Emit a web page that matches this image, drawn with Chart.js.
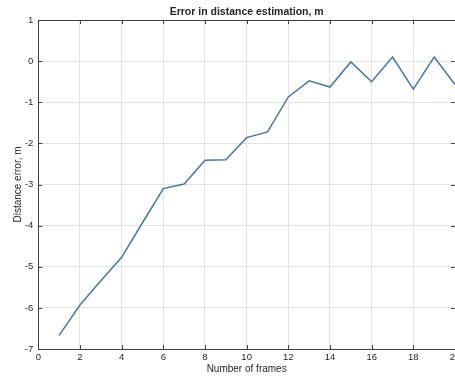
<!DOCTYPE html>
<html>
<head>
<meta charset="utf-8">
<script src="https://cdn.jsdelivr.net/npm/chart.js@4.4.0/dist/chart.umd.min.js"></script>
<style>
  html, body { margin: 0; padding: 0; background: #fff; overflow: hidden; }
  #wrap { width: 475px; height: 378px; position: relative; }
</style>
</head>
<body>
<div id="wrap"><canvas id="errChart"></canvas></div>
<script>
// Distance error per number of frames
const frames = [1, 2, 3, 4, 5, 6, 7, 8, 9, 10, 11, 12, 13, 14, 15, 16, 17, 18, 19, 20];
const distanceError = [-6.67, -5.93, -5.34, -4.77, -3.93, -3.1, -2.99, -2.41, -2.4, -1.86,
  -1.72, -0.87, -0.48, -0.63, -0.02, -0.5, 0.1, -0.68, 0.1, -0.57];

// Axis ranges / tick spacing
const xRange = [0, 20];
const xStep = 2;
const yRange = [-7, 1];
const yStep = 1;

const fontFamily = "'Liberation Sans', Arial, Helvetica, sans-serif";
const axisColor = "#404040";
const textColor = "#262626";
const gridColor = "#e3e3e3";

// box round the plot plus inward tick marks on every side
const boxPlugin = {
  id: "boxTicks",
  afterDatasetsDraw(chart) {
    const { ctx, chartArea: a, scales } = chart;
    const len = 4;
    ctx.save();
    ctx.strokeStyle = axisColor;
    ctx.lineWidth = 1;
    ctx.beginPath();
    scales.x.ticks.forEach((t) => {
      const px = Math.round(scales.x.getPixelForValue(t.value)) + 0.5;
      ctx.moveTo(px, a.bottom);
      ctx.lineTo(px, a.bottom - len);
      ctx.moveTo(px, a.top);
      ctx.lineTo(px, a.top + len);
    });
    scales.y.ticks.forEach((t) => {
      const py = Math.round(scales.y.getPixelForValue(t.value)) + 0.5;
      ctx.moveTo(a.left, py);
      ctx.lineTo(a.left + len, py);
      ctx.moveTo(a.right, py);
      ctx.lineTo(a.right - len, py);
    });
    ctx.stroke();
    ctx.strokeRect(Math.round(a.left) + 0.5, Math.round(a.top) + 0.5,
      Math.round(a.width), Math.round(a.height));
    ctx.restore();
  },
};

const ctx = document.getElementById("errChart").getContext("2d");
new Chart(ctx, {
  type: "line",
  data: {
    datasets: [
      {
        data: frames.map((f, i) => ({ x: f, y: distanceError[i] })),
        borderColor: "#4277b3",
        borderWidth: 1.5,
        pointRadius: 0,
        tension: 0,
        fill: false,
      },
    ],
  },
  options: {
    responsive: true,
    maintainAspectRatio: false,
    animation: false,
    layout: {
      autoPadding: false,
      padding: { left: 0, right: 20, top: 0, bottom: 0 },
    },
    plugins: {
      legend: { display: false },
      tooltip: { enabled: false },
      title: {
        display: true,
        text: "Error in distance estimation, m",
        fullSize: false,
        color: textColor,
        font: { family: fontFamily, size: 10.5, weight: "bold" },
        padding: { top: 6, bottom: 1.4 },
      },
    },
    scales: {
      x: {
        type: "linear",
        min: xRange[0],
        max: xRange[1],
        afterFit(scale) {
          scale.height = 29;
        },
        ticks: {
          stepSize: xStep,
          color: textColor,
          font: { family: fontFamily, size: 9.5 },
          padding: 3,
          maxRotation: 0,
        },
        grid: { color: gridColor, drawTicks: false },
        border: { color: axisColor },
        title: {
          display: true,
          text: "Number of frames",
          color: textColor,
          font: { family: fontFamily, size: 10 },
          padding: { top: 0, bottom: 3 },
        },
      },
      y: {
        min: yRange[0],
        max: yRange[1],
        afterFit(scale) {
          scale.width = 38.3;
        },
        ticks: {
          stepSize: yStep,
          color: textColor,
          font: { family: fontFamily, size: 9.5 },
          padding: 5,
        },
        grid: { color: gridColor, drawTicks: false },
        border: { color: axisColor },
        title: {
          display: true,
          text: "Distance error, m",
          color: textColor,
          font: { family: fontFamily, size: 10 },
          padding: { top: 12, bottom: 0 },
        },
      },
    },
  },
  plugins: [boxPlugin],
});
</script>
</body>
</html>
